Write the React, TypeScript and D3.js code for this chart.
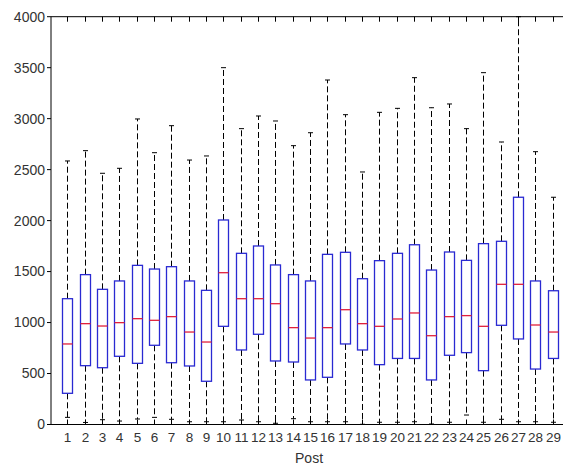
import React from 'react';
import * as d3 from 'd3';

// boxplot per post
const posts = ['1','2','3','4','5','6','7','8','9','10','11','12','13','14','15','16','17','18','19','20','21','22','23','24','25','26','27','28','29'];
const upperWhisker = [2585, 2686, 2464, 2513, 2997, 2666, 2931, 2594, 2634, 3500, 2902, 3026, 2977, 2735, 2862, 3379, 3039, 2477, 3062, 3101, 3402, 3107, 3144, 2902, 3451, 2771, 4000, 2676, 2229];
const q3 = [1234, 1470, 1326, 1408, 1561, 1525, 1548, 1408, 1316, 2006, 1679, 1751, 1565, 1470, 1408, 1669, 1689, 1430, 1607, 1679, 1763, 1515, 1692, 1610, 1774, 1797, 2229, 1408, 1312];
const median = [790, 989, 966, 999, 1038, 1022, 1058, 907, 809, 1489, 1234, 1234, 1185, 950, 848, 950, 1126, 989, 963, 1035, 1094, 871, 1058, 1068, 963, 1375, 1375, 976, 907];
const q1 = [306, 577, 557, 669, 600, 777, 606, 574, 424, 963, 731, 885, 623, 613, 437, 463, 790, 731, 587, 648, 648, 437, 679, 705, 528, 973, 839, 544, 648];
const lowerWhisker = [70, 20, 47, 34, 54, 70, 51, 27, 27, 27, 44, 27, 12, 57, 27, 27, 27, 2, 22, 22, 27, 5, 22, 93, 22, 51, 27, 27, 22];
const yTicks = [0, 500, 1000, 1500, 2000, 2500, 3000, 3500, 4000];

const W = 563;
const H = 466;
const font = 'Liberation Sans, Arial, sans-serif';

export default function App() {
  const x = d3.scaleLinear().domain([1, 29]).range([67.3, 552.8]);
  const y = d3.scaleLinear().domain([0, 4000]).range([424.5, 16.7]);
  const left = x(0.06);
  const right = x(29.94);
  const top = y(4000);
  const bottom = y(0);
  const boxHalf = 5;
  const capHalf = 2.5;

  return (
    <svg width={W} height={H} style={{ position: 'fixed', left: 0, top: 0, background: '#fff' }}>
      <rect x={0} y={0} width={W} height={H} fill="#fff" />
      {posts.map((p, i) => {
        const cx = Math.round(x(i + 1)) + 0.5;
        return (
          <g key={p}>
            <line x1={cx} x2={cx} y1={y(q3[i])} y2={y(upperWhisker[i])} stroke="#000" strokeDasharray="6,3" />
            <line x1={cx} x2={cx} y1={y(q1[i])} y2={y(lowerWhisker[i])} stroke="#000" strokeDasharray="6,3" />
            <line x1={cx - capHalf} x2={cx + capHalf} y1={y(upperWhisker[i])} y2={y(upperWhisker[i])} stroke="#000" />
            <line x1={cx - capHalf} x2={cx + capHalf} y1={y(lowerWhisker[i])} y2={y(lowerWhisker[i])} stroke="#000" />
            <rect x={cx - boxHalf} y={y(q3[i])} width={boxHalf * 2} height={y(q1[i]) - y(q3[i])} fill="none" stroke="#2a2ad2" strokeWidth={1.3} />
            <line x1={cx - boxHalf} x2={cx + boxHalf} y1={y(median[i])} y2={y(median[i])} stroke="#e0203c" strokeWidth={1.3} />
            <line x1={cx} x2={cx} y1={top} y2={top + 5} stroke="#000" />
            <line x1={cx} x2={cx} y1={bottom} y2={bottom - 5} stroke="#000" />
            <text x={cx} y={bottom + 17.5} textAnchor="middle" fontFamily={font} fontSize={13.5} fill="#333">{p}</text>
          </g>
        );
      })}
      <line x1={left} x2={right} y1={top} y2={top} stroke="#000" />
      <line x1={left} x2={right} y1={bottom} y2={bottom} stroke="#000" />
      <line x1={left} x2={left} y1={top} y2={bottom} stroke="#000" />
      {yTicks.map(t => (
        <g key={t}>
          <line x1={left - 4} x2={left} y1={y(t)} y2={y(t)} stroke="#000" />
          <text x={left - 6} y={y(t)} dy="0.35em" textAnchor="end" fontFamily={font} fontSize={14} fill="#333">{t}</text>
        </g>
      ))}
      <text x={(left + right) / 2 - 1} y={463} textAnchor="middle" fontFamily={font} fontSize={14} fill="#333">Post</text>
    </svg>
  );
}
